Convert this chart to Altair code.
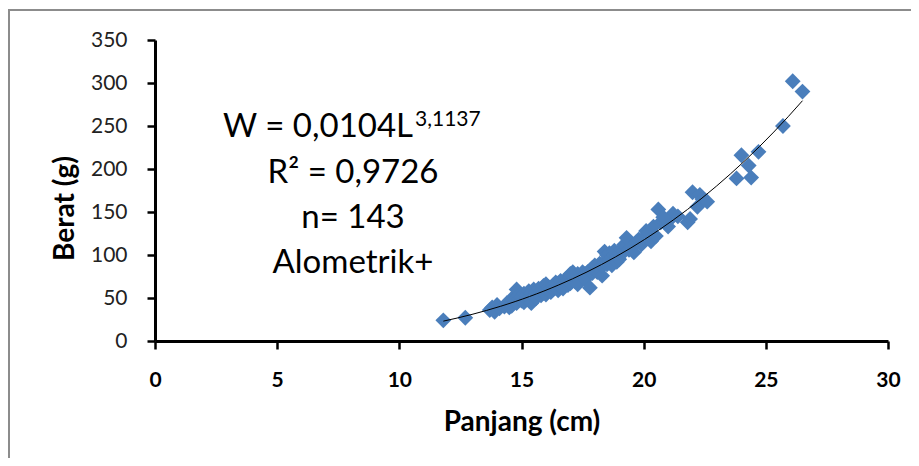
import altair as alt
import pandas as pd

# ---- data ----
panjang = [
    11.8, 12.7,
    13.7, 13.8, 13.9, 14.0, 14.1, 14.3, 14.4, 14.5,
    14.6, 14.6, 14.7, 14.7, 14.8, 14.8, 14.9, 14.9, 15.0, 15.0,
    15.1, 15.1, 15.2, 15.2, 15.3, 15.3, 15.4, 15.4, 15.5, 15.5,
    15.6, 15.6, 15.7, 15.7, 15.8, 15.8, 15.9, 15.9, 16.0, 16.0, 16.0,
    16.1, 16.1, 16.2, 16.2, 16.3, 16.3, 16.4, 16.4, 16.5, 16.5, 16.5,
    16.6, 16.6, 16.7, 16.7, 16.8, 16.8, 16.9, 16.9, 17.0, 17.0, 17.1,
    17.1, 17.2, 17.2, 17.3, 17.3, 17.4, 17.4, 17.5, 17.5, 17.3, 17.0,
    17.6, 17.6, 17.7, 17.7, 17.8, 17.8, 17.9, 17.9, 18.0, 18.0,
    18.1, 18.1, 18.2, 18.2, 18.3, 18.3, 18.4, 18.4, 18.5, 18.5,
    18.6, 18.6, 18.7, 18.7, 18.8, 18.8, 18.9, 18.9,
    19.0, 19.0, 19.1, 19.2, 19.2, 19.3, 19.4, 19.5,
    19.6, 19.7, 19.8, 19.9, 20.0, 20.1, 20.2, 20.3, 20.4, 20.5,
    20.6, 20.7, 20.9, 21.0, 21.1, 21.2, 21.4,
    21.8, 21.9, 22.0, 22.2, 22.3, 22.4, 22.6,
    23.8, 24.0, 24.3, 24.4, 24.7,
    25.7, 26.1, 26.5,
    20.8,
]
berat = [
    24, 27,
    36, 39, 34, 42, 38, 40, 44, 39,
    46, 41, 52, 47, 60, 44, 49, 53, 47, 51,
    45, 55, 49, 53, 58, 50, 44, 56, 52, 60,
    50, 57, 55, 61, 53, 58, 64, 56, 60, 66, 54,
    58, 63, 61, 57, 65, 60, 62, 68, 59, 64, 67,
    63, 70, 66, 61, 68, 72, 65, 70, 74, 67, 71,
    80, 69, 75, 73, 78, 70, 76, 74, 80, 66, 78,
    78, 72, 80, 75, 82, 62, 79, 85, 83, 88,
    80, 86, 84, 90, 76, 88, 92, 104, 89, 100,
    94, 102, 97, 88, 100, 105, 92, 98,
    102, 95, 107, 104, 112, 120, 106, 110,
    103, 115, 118, 112, 120, 128, 126, 116, 133, 122,
    153, 138, 137, 133, 142, 148, 145,
    138, 142, 173, 156, 170, 165, 162,
    189, 216, 204, 190, 220,
    250, 302, 290,
    144,
]
x_ticks = [0, 5, 10, 15, 20, 25, 30]
y_ticks = [0, 50, 100, 150, 200, 250, 300, 350]
x_title = "Panjang (cm)"
y_title = "Berat (g)"
eq_main = "W = 0,0104L"
eq_exp = "3,1137"
ann_lines = ["R² = 0,9726", "n= 143", "Alometrik+"]

FONT = "Lato"
W, H = 733, 301

df = pd.DataFrame({"L": panjang, "W": berat})

xs = alt.Scale(domain=[0, 30], nice=False)
ys = alt.Scale(domain=[0, 350], nice=False)

x_axis = alt.Axis(
    values=x_ticks, format="d", grid=False, title=x_title, labelFlush=False,
    labelFont=FONT, labelFontSize=21, labelFontWeight="bold", labelColor="#000000",
    labelPadding=20, tickSize=8, tickWidth=2.5, tickColor="#000000",
    domainColor="#000000", domainWidth=3,
    titleFont=FONT, titleFontSize=28, titleFontWeight="bold", titleColor="#000000",
    titleX=W / 2, titleY=89, titleAlign="center", titleBaseline="alphabetic",
)
y_axis = alt.Axis(
    values=y_ticks, format="d", grid=False, title=y_title, labelFlush=False,
    labelFont=FONT, labelFontSize=21, labelFontWeight="normal", labelColor="#222222",
    labelPadding=20, tickSize=8, tickWidth=2.5, tickColor="#000000",
    domainColor="#000000", domainWidth=3,
    titleFont=FONT, titleFontSize=28, titleFontWeight="bold", titleColor="#000000",
    titleX=-82, titleY=168, titleAngle=270, titleAlign="center", titleBaseline="alphabetic",
)

base = alt.Chart(df)

border = alt.Chart(pd.DataFrame({"d": [0]})).mark_rect(
    fill="transparent", stroke="#8c8c8c", strokeWidth=2
).encode(
    x=alt.value(-146), x2=alt.value(800), y=alt.value(-30), y2=alt.value(470)
)

points = base.mark_point(
    shape="diamond", filled=True, size=250, color="#4a7ebb", opacity=1
).encode(
    x=alt.X("L:Q", scale=xs, axis=x_axis),
    y=alt.Y("W:Q", scale=ys, axis=y_axis),
)

trend = base.transform_regression("L", "W", method="pow").mark_line(
    color="#000000", strokeWidth=1
).encode(x=alt.X("L:Q", scale=xs), y=alt.Y("W:Q", scale=ys))

def txt(s, x, y, size, align):
    return alt.Chart(pd.DataFrame({"t": [s]})).mark_text(
        font=FONT, fontSize=size, color="#000000", align=align, baseline="alphabetic"
    ).encode(text="t:N", x=alt.value(x), y=alt.value(y))

eq1 = txt(eq_main, 258, 97, 33, "right")
eq2 = txt(eq_exp, 260, 86, 21, "left")
l2 = txt(ann_lines[0], 198, 143, 33, "center")
l3 = txt(ann_lines[1], 198, 188, 33, "center")
l4 = txt(ann_lines[2], 198, 233, 33, "center")

chart = alt.layer(border, points, trend, eq1, eq2, l2, l3, l4).properties(
    width=W, height=H,
    autosize=alt.AutoSizeParams(type="none"),
    padding={"left": 147, "top": 32, "right": 23, "bottom": 117},
    background="white",
).configure_view(stroke=None)

chart.save("out.html", embed_options={"renderer": "svg", "actions": False})
